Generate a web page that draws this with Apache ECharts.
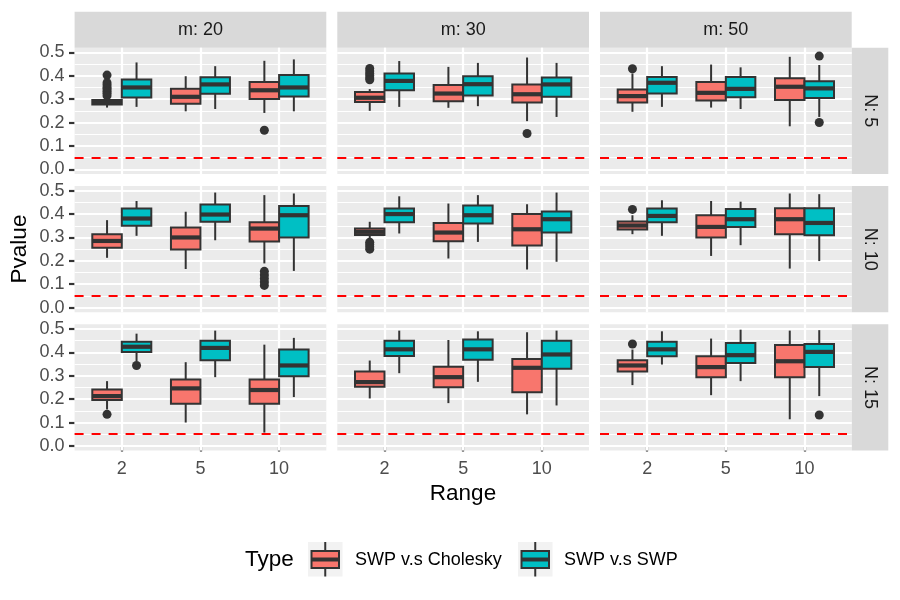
<!DOCTYPE html>
<html>
<head>
<meta charset="utf-8">
<script src="https://cdn.jsdelivr.net/npm/echarts@6/dist/echarts.min.js"></script>
<style>
  html, body { margin: 0; padding: 0; background: #fff; }
  #chart { width: 900px; height: 600px; }
</style>
</head>
<body>
<div id="chart"></div>
<script>
const ranges = ['2', '5', '10']
const mLabels = ['m: 20', 'm: 30', 'm: 50']
const nLabels = ['N: 5', 'N: 10', 'N: 15']
const types = ['SWP v.s Cholesky', 'SWP v.s SWP']
const yTicks = [0, 0.1, 0.2, 0.3, 0.4, 0.5]
const yMinor = [0.05, 0.15, 0.25, 0.35, 0.45]
const alpha = 0.05

// box stats per range: [low whisker, Q1, median, Q3, high whisker]
// each array: [m20, m30, m50], each of those: [range 2, range 5, range 10]
const cholN5 = [
  [[0.264, 0.277, 0.287, 0.296, 0.302], [0.248, 0.280, 0.310, 0.344, 0.398], [0.241, 0.301, 0.338, 0.373, 0.464]],
  [[0.250, 0.288, 0.306, 0.331, 0.343], [0.263, 0.291, 0.324, 0.361, 0.438], [0.206, 0.286, 0.321, 0.363, 0.478]],
  [[0.246, 0.286, 0.313, 0.341, 0.410], [0.264, 0.294, 0.327, 0.373, 0.448], [0.184, 0.296, 0.353, 0.389, 0.481]]
]
const swpN5 = [
  [[0.267, 0.307, 0.350, 0.384, 0.457], [0.258, 0.323, 0.363, 0.394, 0.441], [0.248, 0.311, 0.350, 0.403, 0.470]],
  [[0.267, 0.338, 0.378, 0.410, 0.463], [0.270, 0.316, 0.364, 0.398, 0.455], [0.224, 0.310, 0.363, 0.393, 0.455]],
  [[0.267, 0.324, 0.370, 0.395, 0.441], [0.258, 0.308, 0.344, 0.395, 0.436], [0.224, 0.305, 0.346, 0.377, 0.446]]
]
const cholN10 = [
  [[0.213, 0.256, 0.285, 0.314, 0.374], [0.165, 0.249, 0.300, 0.343, 0.410], [0.189, 0.283, 0.338, 0.365, 0.481]],
  [[0.290, 0.310, 0.324, 0.338, 0.367], [0.210, 0.284, 0.321, 0.362, 0.445], [0.163, 0.266, 0.335, 0.400, 0.442]],
  [[0.314, 0.334, 0.351, 0.368, 0.395], [0.221, 0.300, 0.345, 0.395, 0.456], [0.167, 0.314, 0.378, 0.425, 0.488]]
]
const swpN10 = [
  [[0.307, 0.350, 0.381, 0.424, 0.456], [0.288, 0.367, 0.398, 0.441, 0.492], [0.157, 0.300, 0.395, 0.434, 0.488]],
  [[0.317, 0.365, 0.400, 0.424, 0.476], [0.281, 0.360, 0.395, 0.437, 0.481], [0.196, 0.321, 0.378, 0.411, 0.492]],
  [[0.307, 0.365, 0.392, 0.424, 0.459], [0.267, 0.345, 0.378, 0.422, 0.453], [0.199, 0.309, 0.362, 0.425, 0.485]]
]
const cholN15 = [
  [[0.156, 0.196, 0.213, 0.241, 0.277], [0.100, 0.180, 0.246, 0.284, 0.358], [0.057, 0.180, 0.239, 0.284, 0.433]],
  [[0.203, 0.253, 0.273, 0.318, 0.365], [0.183, 0.251, 0.294, 0.338, 0.453], [0.135, 0.230, 0.334, 0.372, 0.486]],
  [[0.260, 0.318, 0.344, 0.366, 0.412], [0.217, 0.294, 0.337, 0.383, 0.459], [0.114, 0.294, 0.362, 0.432, 0.493]]
]
const swpN15 = [
  [[0.362, 0.402, 0.424, 0.445, 0.480], [0.294, 0.366, 0.419, 0.450, 0.493], [0.209, 0.298, 0.344, 0.412, 0.462]],
  [[0.311, 0.385, 0.413, 0.450, 0.493], [0.274, 0.368, 0.413, 0.455, 0.490], [0.173, 0.330, 0.391, 0.450, 0.493]],
  [[0.348, 0.383, 0.413, 0.445, 0.490], [0.277, 0.355, 0.388, 0.440, 0.497], [0.213, 0.337, 0.402, 0.436, 0.495]]
]

// outliers: [range index, value], per panel [m20, m30, m50]
const cholOutN5 = [
  [[0, 0.403], [0, 0.370], [0, 0.360], [0, 0.350], [0, 0.343], [0, 0.334], [0, 0.325], [0, 0.315], [2, 0.167]],
  [[0, 0.431], [0, 0.420], [0, 0.410], [0, 0.400], [0, 0.390], [0, 0.383], [2, 0.153]],
  [[0, 0.430]]
]
const swpOutN5 = [[], [], [[2, 0.484], [2, 0.200]]]
const cholOutN10 = [
  [[2, 0.155], [2, 0.140], [2, 0.125], [2, 0.110], [2, 0.095]],
  [[0, 0.280], [0, 0.270], [0, 0.260], [0, 0.250]],
  [[0, 0.420]]
]
const swpOutN10 = [[], [], []]
const cholOutN15 = [[[0, 0.135]], [], [[0, 0.436]]]
const swpOutN15 = [[[0, 0.344]], [], [[2, 0.132]]]

const cholRows = [cholN5, cholN10, cholN15]
const swpRows = [swpN5, swpN10, swpN15]
const cholOutRows = [cholOutN5, cholOutN10, cholOutN15]
const swpOutRows = [swpOutN5, swpOutN10, swpOutN15]

const colors = ['#F8766D', '#00BFC4']
const dodge = [-0.1875, 0.1875]
const boxWidth = 0.375
const lineCol = '#333333'
const font = '"Liberation Sans", Arial, Helvetica, sans-serif'

const colLeft = [74.6, 337.3, 600]
const rowTop = [47.7, 186, 324.3]
const panelW = 251.7
const panelH = 126.3

function renderBox (params, api) {
  const x = api.value(0)
  const half = api.size([boxWidth, 0])[0] / 2
  const low = api.coord([x, api.value(1)])
  const q1 = api.coord([x, api.value(2)])
  const med = api.coord([x, api.value(3)])
  const q3 = api.coord([x, api.value(4)])
  const high = api.coord([x, api.value(5)])
  const cx = low[0]
  const ls = { stroke: lineCol, lineWidth: 2 }
  return {
    type: 'group',
    children: [
      { type: 'line', shape: { x1: cx, y1: low[1], x2: cx, y2: q1[1] }, style: ls },
      { type: 'line', shape: { x1: cx, y1: q3[1], x2: cx, y2: high[1] }, style: ls },
      { type: 'rect', shape: { x: cx - half, y: q3[1], width: half * 2, height: q1[1] - q3[1] },
        style: { fill: api.visual('color'), stroke: lineCol, lineWidth: 2 } },
      { type: 'line', shape: { x1: cx - half, y1: med[1], x2: cx + half, y2: med[1] },
        style: { stroke: lineCol, lineWidth: 4.2 } }
    ]
  }
}

const grid = []
const xAxis = []
const yAxis = []
const series = []
const graphic = []

const gridLines = []
yTicks.forEach(v => gridLines.push({ yAxis: v, lineStyle: { color: '#fff', width: 2.2, type: 'solid' } }))
yMinor.forEach(v => gridLines.push({ yAxis: v, lineStyle: { color: '#fff', width: 1.1, type: 'solid' } }))
ranges.forEach((r, i) => gridLines.push({ xAxis: i + 1, lineStyle: { color: '#fff', width: 2.2, type: 'solid' } }))

for (let r = 0; r < 3; r++) {
  for (let c = 0; c < 3; c++) {
    const k = r * 3 + c
    grid.push({
      left: colLeft[c], top: rowTop[r], width: panelW, height: panelH,
      show: true, backgroundColor: '#EBEBEB', borderWidth: 0
    })
    xAxis.push({
      type: 'value', gridIndex: k, min: 0.4, max: 3.6,
      axisLine: { show: false },
      splitLine: { show: false },
      axisTick: { show: r === 2, length: 5.6, customValues: [1, 2, 3], lineStyle: { color: lineCol, width: 2.2 } },
      axisLabel: {
        show: r === 2, customValues: [1, 2, 3], margin: 9,
        color: '#4D4D4D', fontSize: 18, fontFamily: font,
        formatter: v => ranges[Math.round(v) - 1]
      }
    })
    yAxis.push({
      type: 'value', gridIndex: k, min: -0.02, max: 0.52,
      axisLine: { show: false },
      splitLine: { show: false },
      axisTick: { show: c === 0, length: 5.6, customValues: yTicks, lineStyle: { color: lineCol, width: 2.2 } },
      axisLabel: {
        show: c === 0, customValues: yTicks, margin: 10,
        color: '#4D4D4D', fontSize: 18, fontFamily: font,
        formatter: v => v.toFixed(1)
      }
    })

    const boxSets = [cholRows[r][c], swpRows[r][c]]
    const outSets = [cholOutRows[r][c], swpOutRows[r][c]]
    boxSets.forEach((stats, t) => {
      series.push({
        type: 'custom', name: types[t], xAxisIndex: k, yAxisIndex: k, z: 3,
        itemStyle: { color: colors[t] },
        renderItem: renderBox,
        encode: { x: 0, y: [1, 2, 3, 4, 5] },
        data: stats.map((s, i) => [i + 1 + dodge[t]].concat(s)),
        markLine: t === 0 ? {
          silent: true, symbol: 'none', z: 1, animation: false,
          label: { show: false },
          data: gridLines.concat([{ yAxis: alpha, lineStyle: { color: '#FF0000', width: 2.2, type: [9, 8] } }])
        } : undefined
      })
      series.push({
        type: 'scatter', xAxisIndex: k, yAxisIndex: k, z: 4,
        symbolSize: 9, itemStyle: { color: lineCol, opacity: 1 },
        data: outSets[t].map(o => [o[0] + 1 + dodge[t], o[1]])
      })
    })
  }
}

// facet strips
for (let c = 0; c < 3; c++) {
  graphic.push({ type: 'rect', shape: { x: colLeft[c], y: 11.7, width: panelW, height: 36 }, style: { fill: '#D9D9D9' } })
  graphic.push({ type: 'text', x: colLeft[c] + panelW / 2, y: 29.7,
    style: { text: mLabels[c], x: 0, y: 0, textAlign: 'center', textVerticalAlign: 'middle', align: 'center', verticalAlign: 'middle', fill: '#1A1A1A', font: '18px ' + font } })
}
for (let r = 0; r < 3; r++) {
  graphic.push({ type: 'rect', shape: { x: colLeft[2] + panelW, y: rowTop[r], width: 36.6, height: panelH }, style: { fill: '#D9D9D9' } })
  graphic.push({ type: 'text', x: colLeft[2] + panelW + 18.3, y: rowTop[r] + panelH / 2, rotation: -Math.PI / 2,
    style: { text: nLabels[r], x: 0, y: 0, textAlign: 'center', textVerticalAlign: 'middle', align: 'center', verticalAlign: 'middle', fill: '#1A1A1A', font: '18px ' + font } })
}

// axis titles
graphic.push({ type: 'text', x: 463, y: 494,
  style: { text: 'Range', x: 0, y: 0, textAlign: 'center', textVerticalAlign: 'middle', align: 'center', verticalAlign: 'middle', fill: '#000', font: '22.5px ' + font } })
graphic.push({ type: 'text', x: 20, y: 249, rotation: Math.PI / 2,
  style: { text: 'Pvalue', x: 0, y: 0, textAlign: 'center', textVerticalAlign: 'middle', align: 'center', verticalAlign: 'middle', fill: '#000', font: '22.5px ' + font } })

// legend
graphic.push({ type: 'text', x: 245, y: 560,
  style: { text: 'Type', x: 0, y: 0, textAlign: 'left', textVerticalAlign: 'middle', align: 'left', verticalAlign: 'middle', fill: '#000', font: '22.5px ' + font } })
const keyX = [308, 518]
const labelX = [355, 564]
types.forEach((name, t) => {
  const kx = keyX[t]
  graphic.push({ type: 'rect', shape: { x: kx, y: 542, width: 34.5, height: 34.5 }, style: { fill: '#F2F2F2' } })
  graphic.push({ type: 'line', shape: { x1: kx + 17.25, y1: 542, x2: kx + 17.25, y2: 576.5 }, style: { stroke: lineCol, lineWidth: 2 } })
  graphic.push({ type: 'rect', shape: { x: kx + 3.5, y: 551, width: 27.5, height: 17 }, style: { fill: colors[t], stroke: lineCol, lineWidth: 2 } })
  graphic.push({ type: 'line', shape: { x1: kx + 3.5, y1: 559.5, x2: kx + 31, y2: 559.5 }, style: { stroke: lineCol, lineWidth: 4 } })
  graphic.push({ type: 'text', x: labelX[t], y: 560,
    style: { text: name, x: 0, y: 0, textAlign: 'left', textVerticalAlign: 'middle', align: 'left', verticalAlign: 'middle', fill: '#000', font: '18px ' + font } })
})

const chart = echarts.init(document.getElementById('chart'))
chart.setOption({
  animation: false,
  backgroundColor: '#fff',
  grid: grid,
  xAxis: xAxis,
  yAxis: yAxis,
  series: series,
  graphic: graphic
})
</script>
</body>
</html>
